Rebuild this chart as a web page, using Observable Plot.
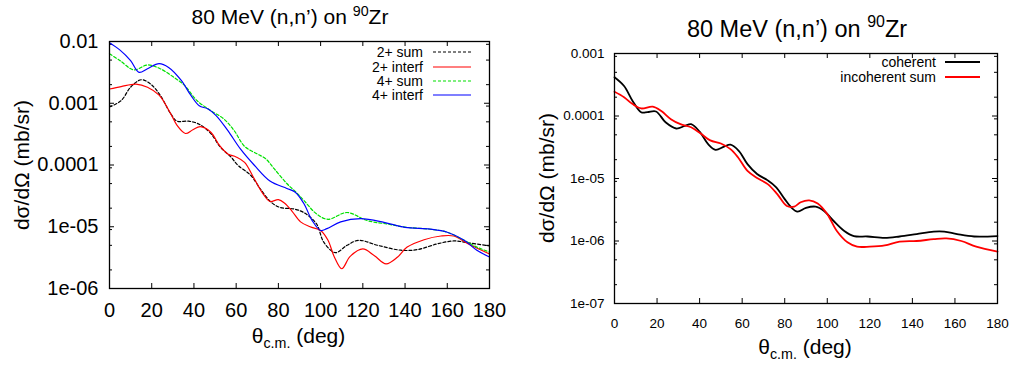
<!DOCTYPE html>
<html><head><meta charset="utf-8">
<script src="https://cdn.jsdelivr.net/npm/d3@7"></script>
<script src="https://cdn.jsdelivr.net/npm/@observablehq/plot@0.6"></script>
<style>
html,body{margin:0;padding:0;background:#fff;}
#wrap{position:relative;width:1013px;height:369px;overflow:hidden;font-family:"Liberation Sans",Arial,sans-serif;color:#000;background:#fff;}
.panel{position:absolute;top:0;}
.panel svg{overflow:visible;display:block;}
.lbl{position:absolute;white-space:nowrap;line-height:1;}
.lbl sup{font-size:0.68em;position:relative;top:-0.6em;vertical-align:baseline;}
.lbl sub{font-size:0.68em;position:relative;top:0.3em;vertical-align:baseline;}
.leg{position:absolute;}
</style></head><body><div id="wrap"></div>
<script>
// ---------- data: left panel ----------
const leftSeriesNames = ["2+ sum", "2+ interf", "4+ sum", "4+ interf"];
const sum2Deg = [0,5.5,10,15,19.5,24,29,32,37.5,42.5,48,52.5,57.5,61,67,71.5,76.5,81,87,92,98,101.5,107,112.5,118,127,138,146,155,163,170,180];
const sum2Val = [8.71e-4,1.10e-3,1.82e-3,2.40e-3,2.04e-3,1.35e-3,6.76e-4,5.13e-4,5.13e-4,4.57e-4,3.24e-4,1.95e-4,1.35e-4,9.77e-5,6.76e-5,4.07e-5,2.51e-5,2.04e-5,1.95e-5,1.70e-5,1.12e-5,5.62e-6,3.80e-6,5.01e-6,6.03e-6,5.01e-6,4.17e-6,4.27e-6,5.25e-6,5.89e-6,5.50e-6,4.90e-6];
const interf2Deg = [0,5.5,12.5,18,23.5,29,32,36,39.5,43,48,52,56,60,64,68.5,73,76,80,83,86.5,90.5,95,100,103.5,106.5,110,114,120,125.5,131,136.5,141,149,157,163,170,180];
const interf2Val = [1.70e-3,1.86e-3,2.04e-3,1.82e-3,1.35e-3,6.76e-4,4.37e-4,3.24e-4,3.72e-4,4.17e-4,3.39e-4,2.09e-4,1.51e-4,1.35e-4,1.10e-4,6.03e-5,3.31e-5,2.57e-5,2.75e-5,2.40e-5,1.78e-5,1.20e-5,1.00e-5,8.71e-6,6.03e-6,3.24e-6,2.09e-6,3.31e-6,4.37e-6,3.39e-6,2.51e-6,3.24e-6,4.68e-6,6.17e-6,7.08e-6,7.08e-6,5.25e-6,3.63e-6];
const sum4Deg = [0,5,11.5,18,24,30.5,35.5,41.5,48,54,59,64,70,74,78,84,88,92,98,103.5,112.5,122,132,141,152,160,168,174,180];
const sum4Val = [6.31e-3,4.90e-3,3.47e-3,4.17e-3,3.63e-3,2.63e-3,1.95e-3,1.10e-3,7.59e-4,5.62e-4,3.63e-4,2.00e-4,1.51e-4,1.26e-4,8.71e-5,5.01e-5,3.72e-5,2.69e-5,1.62e-5,1.32e-5,1.70e-5,1.26e-5,1.10e-5,9.77e-6,9.12e-6,8.13e-6,6.03e-6,4.68e-6,3.89e-6];
const interf4Deg = [0,5,10,14,18,23.5,28,34,38.5,42.5,46.5,50.5,56,62,68.5,76,84,88,92,96,100,103,109.5,119,130,140,152,160,168,174,180];
const interf4Val = [9.55e-3,7.24e-3,4.90e-3,3.16e-3,3.63e-3,4.37e-3,3.80e-3,2.34e-3,1.35e-3,9.12e-4,8.13e-4,6.31e-4,3.63e-4,1.82e-4,1.00e-4,5.50e-5,4.17e-5,3.63e-5,2.40e-5,1.26e-5,8.71e-6,9.33e-6,1.20e-5,1.35e-5,1.18e-5,9.77e-6,9.12e-6,8.13e-6,6.03e-6,4.17e-6,3.24e-6];

// ---------- data: right panel ----------
const rightSeriesNames = ["coherent", "incoherent sum"];
const cohDeg = [0,4.5,8.5,12.5,15.5,19.5,24,29,33,36,40,44,47.5,51.5,54.5,58.5,62.5,67,72,76,80,83,86,90,94.5,98.5,103,108,112.5,119,127,134,142,150,155,161,169,180];
const cohVal = [4.17e-4,3.02e-4,1.74e-4,1.15e-4,1.15e-4,1.18e-4,7.94e-5,6.31e-5,6.92e-5,7.41e-5,5.62e-5,3.55e-5,2.88e-5,3.24e-5,3.47e-5,2.75e-5,1.70e-5,1.18e-5,9.33e-6,7.24e-6,4.68e-6,3.47e-6,2.95e-6,3.39e-6,3.55e-6,3.02e-6,2.09e-6,1.45e-6,1.20e-6,1.18e-6,1.12e-6,1.18e-6,1.29e-6,1.41e-6,1.41e-6,1.29e-6,1.18e-6,1.20e-6];
const incDeg = [0,4.5,8.5,12.5,18,22,26.5,31,36,40.5,45,50,54.5,58,62.5,67,72,76.5,81,84.5,87.5,91.5,95.5,100,104.5,109.5,114,120,127,134,142,150,156,163,170,180];
const incVal = [2.45e-4,2.00e-4,1.55e-4,1.32e-4,1.41e-4,1.20e-4,8.91e-5,7.41e-5,6.61e-5,5.25e-5,4.07e-5,3.63e-5,2.95e-5,2.19e-5,1.32e-5,1.02e-5,8.13e-6,5.62e-6,3.63e-6,3.55e-6,4.17e-6,4.47e-6,3.98e-6,2.69e-6,1.45e-6,9.55e-7,8.13e-7,8.13e-7,8.51e-7,9.77e-7,1.00e-6,1.07e-6,1.10e-6,1.00e-6,8.13e-7,6.76e-7];

// ---------- ticks ----------
const xTicks = [0,20,40,60,80,100,120,140,160,180];
const leftYTicks = [1e-6,1e-5,1e-4,1e-3,1e-2];
const leftYLabels = ["1e-06","1e-05","0.0001","0.001","0.01"];
const rightYTicks = [1e-7,1e-6,1e-5,1e-4,1e-3];
const rightYLabels = ["1e-07","1e-06","1e-05","0.0001","0.001"];
const minorMultipliers = [2,5,9];

function toRows(name, degs, vals){ return degs.map((d,i)=>({series:name, deg:d, val:vals[i]})); }
function minorOf(majors){ const out=[]; majors.slice(0,-1).forEach(m=>minorMultipliers.forEach(k=>out.push(m*k))); return out; }

const FONT = '"Liberation Sans", Arial, sans-serif';

function makePanel(cfg){
  const iw = cfg.width - cfg.ml - cfg.mr, ih = cfg.height - cfg.mt - cfg.mb;
  const minors = minorOf(cfg.yTicks);
  const fmt = d => cfg.yLabels[cfg.yTicks.findIndex(t => Math.abs(t/d - 1) < 1e-6)];
  const marks = [
    Plot.tickY(cfg.yTicks, {y: d=>d, insetRight: iw-5, stroke:"#000", strokeWidth:1}),
    Plot.tickY(cfg.yTicks, {y: d=>d, insetLeft: iw-5, stroke:"#000", strokeWidth:1}),
    Plot.tickY(minors, {y: d=>d, insetRight: iw-3, stroke:"#000", strokeWidth:1}),
    Plot.tickY(minors, {y: d=>d, insetLeft: iw-3, stroke:"#000", strokeWidth:1}),
    Plot.tickX(xTicks, {x: d=>d, insetTop: ih-5, stroke:"#000", strokeWidth:1}),
    Plot.tickX(xTicks, {x: d=>d, insetBottom: ih-5, stroke:"#000", strokeWidth:1}),
    ...cfg.series.map(s => Plot.line(toRows(s.name, s.deg, s.val), {x:"deg", y:"val", stroke:s.color, strokeWidth:cfg.sw, strokeDasharray:s.dash || null, curve:"catmull-rom"})),
    Plot.frame({stroke:"#000", strokeWidth:1.3})
  ];
  return Plot.plot({
    width: cfg.width, height: cfg.height,
    marginLeft: cfg.ml, marginRight: cfg.mr, marginTop: cfg.mt, marginBottom: cfg.mb,
    style: {fontFamily: FONT, fontSize: cfg.fs+"px", overflow:"visible", background:"transparent", color:"#000"},
    x: {domain:[0,180], ticks: xTicks, tickSize:0, tickPadding: cfg.xpad, label:null},
    y: {type:"log", domain:[cfg.yTicks[0], cfg.yTicks[cfg.yTicks.length-1]], ticks: cfg.yTicks, tickFormat: fmt, tickSize:0, tickPadding: cfg.ypad, label:null},
    marks
  });
}

const leftSeries = [
  {name:leftSeriesNames[0], deg:sum2Deg, val:sum2Val, color:"#000000", dash:"3,2"},
  {name:leftSeriesNames[1], deg:interf2Deg, val:interf2Val, color:"#ff0000"},
  {name:leftSeriesNames[2], deg:sum4Deg, val:sum4Val, color:"#00e000", dash:"3,2"},
  {name:leftSeriesNames[3], deg:interf4Deg, val:interf4Val, color:"#0000ff"}
];
const rightSeries = [
  {name:rightSeriesNames[0], deg:cohDeg, val:cohVal, color:"#000000"},
  {name:rightSeriesNames[1], deg:incDeg, val:incVal, color:"#ff0000"}
];

const wrap = document.getElementById("wrap");
function addPanel(left, svg){ const d=document.createElement("div"); d.className="panel"; d.style.left=left+"px"; d.appendChild(svg); wrap.appendChild(d); }

addPanel(0, makePanel({width:500, height:369, ml:109, mr:11, mt:41, mb:81, fs:20, xpad:14, ypad:11, sw:1.2, yTicks:leftYTicks, yLabels:leftYLabels, series:leftSeries}));
addPanel(500, makePanel({width:513, height:369, ml:114, mr:16, mt:53, mb:66, fs:13.5, xpad:15, ypad:10, sw:1.8, yTicks:rightYTicks, yLabels:rightYLabels, series:rightSeries}));

// ---------- text overlays ----------
function textAt(html, cx, baseline, fs){
  const d=document.createElement("div"); d.className="lbl"; d.innerHTML=html;
  d.style.fontSize=fs+"px"; d.style.left=cx+"px"; d.style.top=(baseline-0.846*fs)+"px";
  d.style.transform="translateX(-50%)"; wrap.appendChild(d);
}
function vtextAt(html, cx, cy, fs){
  const d=document.createElement("div"); d.className="lbl"; d.innerHTML=html;
  d.style.fontSize=fs+"px"; d.style.left=cx+"px"; d.style.top=cy+"px";
  d.style.transform="translate(-50%,-50%) rotate(-90deg)"; wrap.appendChild(d);
}
const titleHTML = "80 MeV (n,n’) on <sup>90</sup>Zr";
const xLabelHTML = "θ<sub>c.m.</sub> (deg)";
const yLabelHTML = "dσ/dΩ (mb/sr)";
textAt(titleHTML, 290, 24, 21);
textAt(titleHTML, 797, 37.5, 23.5);
textAt(xLabelHTML, 298.5, 343, 21);
textAt(xLabelHTML, 805, 354, 21);
vtextAt(yLabelHTML, 21, 164.5, 21);
vtextAt(yLabelHTML, 546, 177.7, 21);

// ---------- legends ----------
function legendRow(text, xRight, yMid, x1, x2, color, dash, sw, fs){
  const t=document.createElement("div"); t.className="lbl"; t.textContent=text;
  t.style.fontSize=fs+"px"; t.style.right=(1013-xRight)+"px"; t.style.top=(yMid-0.5*fs)+"px";
  wrap.appendChild(t);
  const ns="http://www.w3.org/2000/svg";
  const s=document.createElementNS(ns,"svg"); s.setAttribute("class","leg");
  s.setAttribute("width", x2-x1); s.setAttribute("height", 6);
  s.style.left=x1+"px"; s.style.top=(yMid-3)+"px";
  const l=document.createElementNS(ns,"line");
  l.setAttribute("x1",0); l.setAttribute("x2",x2-x1); l.setAttribute("y1",3); l.setAttribute("y2",3);
  l.setAttribute("stroke",color); l.setAttribute("stroke-width",sw);
  if (dash) l.setAttribute("stroke-dasharray",dash);
  s.appendChild(l); wrap.appendChild(s);
}
const leftRowsY = [52.3, 67, 81, 95.3];
leftSeries.forEach((s,i)=>legendRow(s.name, 423, leftRowsY[i], 433, 471, s.color, s.dash, 1.2, 14));
const rightRowsY = [62.3, 76.5];
rightSeries.forEach((s,i)=>legendRow(s.name, 936, rightRowsY[i], 945, 980, s.color, s.dash, 1.8, 14));
</script></body></html>
